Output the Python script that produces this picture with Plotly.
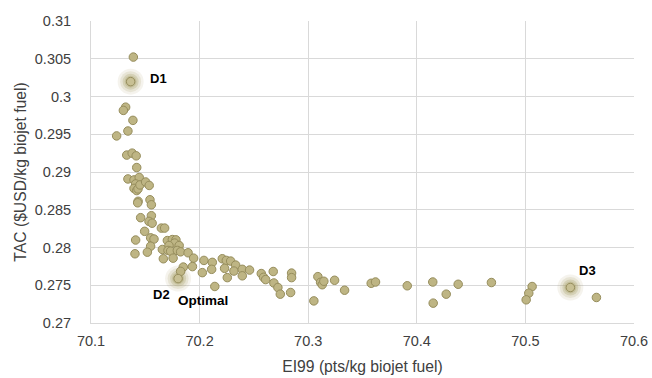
import plotly.graph_objects as go

# Pareto front points (EI99, TAC)
ei99 = [70.1390, 70.1319, 70.1298, 70.1386, 70.1340, 70.1236, 70.1329, 70.1379, 70.1416, 70.1421,
        70.1340, 70.1396, 70.1444, 70.1411, 70.1396, 70.1421, 70.1433, 70.1451, 70.1503, 70.1536,
        70.1434, 70.1430, 70.1543, 70.1556, 70.1457, 70.1556, 70.1534, 70.1563, 70.1494, 70.1648,
        70.1678, 70.1411, 70.1549, 70.1580, 70.1703, 70.1749, 70.1782, 70.1770, 70.1549, 70.1405,
        70.1519, 70.1657, 70.1718, 70.1812, 70.1709, 70.1733, 70.1795, 70.1825, 70.1666, 70.1756,
        70.1894, 70.1945, 70.1850, 70.1825, 70.1934, 70.2025, 70.2040, 70.2117, 70.2111, 70.2209,
        70.2246, 70.2286, 70.2230, 70.2332, 70.2316, 70.2255, 70.2393, 70.2460, 70.2393, 70.2140,
        70.2568, 70.2589, 70.2608, 70.2678, 70.2684, 70.2721, 70.2743, 70.2838, 70.2847, 70.2847,
        70.3052, 70.3089, 70.3114, 70.3129, 70.3144, 70.3243, 70.3335, 70.3580, 70.3620, 70.3912,
        70.4147, 70.4151, 70.4271, 70.4381, 70.4687, 70.5062, 70.5031, 70.5007, 70.5654]
tac = [0.30522, 0.29859, 0.29816, 0.29684, 0.29543, 0.29478, 0.29224, 0.29250, 0.29214, 0.29059,
       0.28908, 0.28895, 0.28928, 0.28842, 0.28783, 0.28754, 0.28776, 0.28829, 0.28868, 0.28822,
       0.28612, 0.28592, 0.28632, 0.28566, 0.28395, 0.28421, 0.28346, 0.28322, 0.28214, 0.28257,
       0.28257, 0.28099, 0.28128, 0.28112, 0.28092, 0.28105, 0.28101, 0.28059, 0.28017, 0.27917,
       0.27938, 0.27974, 0.28026, 0.28026, 0.27961, 0.27951, 0.27961, 0.27943, 0.27851, 0.27859,
       0.27930, 0.27859, 0.27741, 0.27684, 0.27747, 0.27667, 0.27829, 0.27803, 0.27711, 0.27851,
       0.27829, 0.27820, 0.27724, 0.27767, 0.27688, 0.27601, 0.27711, 0.27701, 0.27625, 0.27484,
       0.27655, 0.27605, 0.27575, 0.27682, 0.27530, 0.27470, 0.27382, 0.27404, 0.27661, 0.27601,
       0.27293, 0.27614, 0.27539, 0.27507, 0.27553, 0.27566, 0.27434, 0.27526, 0.27543, 0.27493,
       0.27543, 0.27263, 0.27382, 0.27513, 0.27536, 0.27483, 0.27395, 0.27307, 0.27338]

# Highlighted design points
d_names = ["D1", "D2", "D3"]
d_ei99 = [70.1365, 70.1802, 70.5414]
d_tac = [0.30197, 0.27588, 0.27470]

x_ticks = [70.1, 70.2, 70.3, 70.4, 70.5, 70.6]
y_ticks = [0.27, 0.275, 0.28, 0.285, 0.29, 0.295, 0.3, 0.305, 0.31]
y_tick_text = ["0.27", "0.275", "0.28", "0.285", "0.29", "0.295", "0.3", "0.305", "0.31"]

fill = "rgb(190,181,132)"
edge = "rgb(150,141,92)"
glow = "rgb(170,160,105)"

fig = go.Figure()
# glow halos
for sz, op in [(26, 0.12), (21, 0.18), (16, 0.28), (12, 0.35)]:
    fig.add_trace(go.Scatter(x=d_ei99, y=d_tac, mode="markers",
                             marker=dict(size=sz, color=glow, opacity=op, line=dict(width=0)),
                             hoverinfo="skip", showlegend=False))
fig.add_trace(go.Scatter(x=ei99, y=tac, mode="markers",
                         marker=dict(size=8.5, color=fill, line=dict(color=edge, width=1)),
                         showlegend=False))
fig.add_trace(go.Scatter(x=d_ei99, y=d_tac, mode="markers",
                         marker=dict(size=8.5, color="rgb(200,192,148)", line=dict(color=edge, width=1)),
                         showlegend=False))

lab_font = dict(family="Liberation Sans, Arial, sans-serif", size=13, color="black")
shifts = {"D1": (17, 3, "left"), "D2": (-16.5, -16, "center"), "D3": (17.5, 17, "center")}
for name, xv, yv in zip(d_names, d_ei99, d_tac):
    xs, ys, xa = shifts[name]
    fig.add_annotation(x=xv, y=yv, text="<b>%s</b>" % name, showarrow=False,
                       xshift=xs, yshift=ys, xanchor=xa, font=lab_font)
fig.add_annotation(x=d_ei99[1], y=d_tac[1], text="<b>Optimal</b>", showarrow=False,
                   xshift=25, yshift=-22, xanchor="center",
                   font=dict(family="Liberation Sans, Arial, sans-serif", size=13.5, color="black"))

axis_font = dict(family="Liberation Sans, Arial, sans-serif", size=14.5, color="#404040")
title_font = dict(family="Liberation Sans, Arial, sans-serif", size=15.7, color="#404040")
fig.update_layout(
    width=652, height=378,
    margin=dict(l=91, r=18, t=21, b=55),
    plot_bgcolor="white", paper_bgcolor="white",
    xaxis=dict(range=[70.1, 70.6], tickvals=x_ticks, ticktext=[str(v) for v in x_ticks],
               showgrid=True, gridcolor="#d9d9d9", gridwidth=1, automargin=False,
               showline=True, linecolor="#d9d9d9", linewidth=1, zeroline=False,
               tickfont=axis_font, ticks="", ticklabelstandoff=5,
               title=dict(text="EI99 (pts/kg biojet fuel)", font=title_font, standoff=12)),
    yaxis=dict(range=[0.27, 0.31], tickvals=y_ticks, ticktext=y_tick_text,
               showgrid=True, gridcolor="#d9d9d9", gridwidth=1, automargin=False,
               showline=True, linecolor="#d9d9d9", linewidth=1, zeroline=False,
               tickfont=axis_font, ticks="", ticklabelstandoff=16,
               title=dict(text="TAC ($USD/kg biojet fuel)", font=title_font, standoff=4)),
)
fig.write_html("out.html", config={"displayModeBar": False},
               post_script="document.body.style.margin='0';document.body.style.overflow='hidden';")
